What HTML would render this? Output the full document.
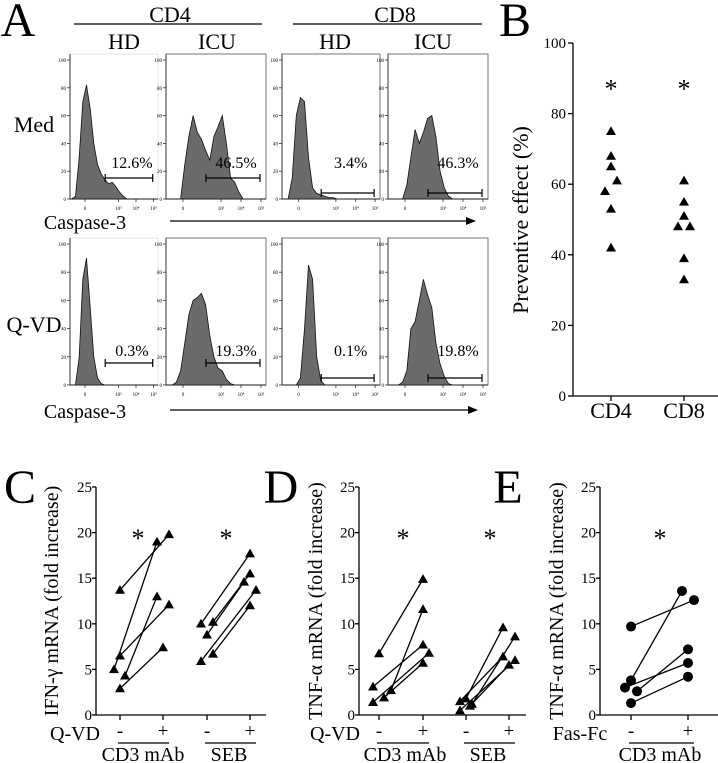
<!DOCTYPE html>
<html><head><meta charset="utf-8">
<style>
body{margin:0;background:#fff;}
svg{display:block;}
svg text{font-family:"Liberation Serif","Times New Roman",serif;}
</style></head>
<body>
<svg id="fig" width="718" height="763" viewBox="0 0 718 763"></svg>
<script>
// ---- Panel A histogram data (counts, 24 bins across each plot) ----
const histMedCD4HD  = [0,2,30,70,82,65,40,25,18,14,11,12,9,5,2,0,0,0,0,0,0,0,0,0];
const histMedCD4ICU = [0,0,0,0,25,45,60,48,43,35,28,45,52,60,40,15,12,5,0,0,0,0,0,0];
const histMedCD8HD  = [0,0,15,60,73,70,30,8,4,3,2,1,1,0,0,0,0,0,0,0,0,0,0,0];
const histMedCD8ICU = [0,0,0,0,10,30,50,40,48,58,60,45,20,8,2,0,0,0,0,0,0,0,0,0];
const histQCD4HD    = [0,0,20,75,90,55,20,5,1,0,0,0,0,0,0,0,0,0,0,0,0,0,0,0];
const histQCD4ICU   = [0,0,2,10,30,50,60,62,65,57,35,20,12,10,4,1,0,0,0,0,0,0,0,0];
const histQCD8HD    = [0,0,0,0,5,40,85,75,20,3,0,0,0,0,0,0,0,0,0,0,0,0,0,0];
const histQCD8ICU   = [0,0,0,2,10,40,45,60,75,64,55,30,15,6,1,0,0,0,0,0,0,0,0,0];
const gateLabels = ["12.6%","46.5%","3.4%","46.3%","0.3%","19.3%","0.1%","19.8%"];
// ---- Panel B ----
const bCategories = ["CD4","CD8"];
const bCD4 = [75,68,65,61,58,53,42];
const bCD8 = [61,55,51,48,48,39,33];
const bTicks = [0,20,40,60,80,100];
// ---- Panel C (IFN-γ) pairs: minus, plus ----
const cCD3Minus = [13.7,5,6.5,4.3,2.9];
const cCD3Plus  = [19.8,19,12.1,13,7.4];
const cSEBMinus = [10,8.8,10.2,5.9,6.7];
const cSEBPlus  = [17.7,14.6,15.5,13.7,12];
// ---- Panel D (TNF-α) ----
const dCD3Minus = [6.75,3.1,1.4,1.9,2.7];
const dCD3Plus  = [14.9,7.7,6.8,5.7,11.6];
const dSEBMinus = [1.8,1.2,1.5,0.5,1.0];
const dSEBPlus  = [9.6,8.6,6.4,6.0,5.5];
// ---- Panel E (TNF-α, Fas-Fc) ----
const eMinus = [9.7,3.8,3.0,2.6,1.3];
const ePlus  = [12.6,13.6,5.7,7.2,4.2];
const fcTicks = [0,5,10,15,20,25];

const NS="http://www.w3.org/2000/svg";
const svg=document.getElementById('fig');
function mk(tag,attrs,parent){const e=document.createElementNS(NS,tag);for(const k in attrs)e.setAttribute(k,attrs[k]);(parent||svg).appendChild(e);return e;}
function txt(s,x,y,size,anchor,name,extra){const t=mk('text',Object.assign({x:x,y:y,'font-size':size,'text-anchor':anchor||'middle',fill:'#000','font-family':'Liberation Serif, serif'},extra||{}));t.textContent=s;


return t;}
function ln(x1,y1,x2,y2,name,w,col){const l=mk('line',{x1:x1,y1:y1,x2:x2,y2:y2,stroke:col||'#000','stroke-width':w||1.3});


return l;}

// ===== Panel A =====
txt('A',18,36,48,'middle','panel-a-label');
txt('CD4',170,22,22,'middle','cd4-header');
ln(74,24,262,24,'cd4-header-line');
txt('CD8',395,22,22,'middle','cd8-header');
ln(293,24,482,24,'cd8-header-line');
txt('HD',124,49,22,'middle','hd-header-cd4');
txt('ICU',217,49,22,'middle','icu-header-cd4');
txt('HD',335,49,22,'middle','hd-header-cd8');
txt('ICU',433,49,22,'middle','icu-header-cd8');
txt('Med',34,132,22,'middle','med-row-label');
txt('Q-VD',34,332,22,'middle','qvd-row-label');

const boxes=[[70,158],[166,266],[282,380],[388,488]];
const rows=[[54,199],[238,385]];
const hists=[histMedCD4HD,histMedCD4ICU,histMedCD8HD,histMedCD8ICU,histQCD4HD,histQCD4ICU,histQCD8HD,histQCD8ICU];
const gateY=[[178,178,193,193],[363,363,378,378]];
const labY=[[168,168,168,168],[356,356,356,356]];
for(let r=0;r<2;r++){
  for(let b=0;b<4;b++){
    const [x0,x1]=boxes[b];const [y0,y1]=rows[r];
    const rc=mk('rect',{x:x0,y:y0,width:x1-x0,height:y1-y0,fill:'none',stroke:b===0?'#ddd':'#555','stroke-width':0.8});
    
    
    ln(x0,y0,x0,y1,'histogram-y-axis',1,'#333');
    ln(x0,y1,x1,y1,'histogram-x-axis',1,'#333');
    for(let t=0;t<=5;t++){const ty=y1-(y1-y0-6)*t/5;ln(x0-3,ty,x0,ty,'histogram-y-tick',0.8,'#333');
      txt(String(t*20),x0-4,ty+2,5,'end','histogram-y-tick-label');}
    const tl=['0','10³','10⁴','10⁵'];const tf=[0.17,0.55,0.75,0.95];
    for(let t=0;t<4;t++){const tx=x0+(x1-x0)*tf[t];ln(tx,y1,tx,y1+3,'histogram-x-tick',0.8,'#333');
      txt(tl[t],tx,y1+11,5,'middle','histogram-x-tick-label');}
    const h=hists[r*4+b];const n=h.length;const sx=(x1-x0)/n;const sy=(y1-y0-6)/100;
    let d='M'+x0+','+y1;
    for(let i=0;i<n;i++){d+=' L'+(x0+sx*(i+0.5)).toFixed(1)+','+(y1-h[i]*sy).toFixed(1);}
    d+=' L'+x1+','+y1+' Z';
    const p=mk('path',{d:d,fill:'#6b6b6b',stroke:'#111','stroke-width':0.8});
    
    
    const gx0=x0+(x1-x0)*0.4,gx1=x0+(x1-x0)*0.94,gy=gateY[r][b];
    ln(gx0,gy,gx1,gy,'gate-bar',1.2);ln(gx0,gy-4,gx0,gy+4,'gate-bar-end',1.2);ln(gx1,gy-4,gx1,gy+4,'gate-bar-end',1.2);
    txt(gateLabels[r*4+b],(gx0+gx1)/2+3,labY[r][b],16,'middle','gate-percentage');
  }
}
txt('Caspase-3',85,229,20,'middle','caspase-3-axis-label');
ln(170,221,468,221,'caspase-3-arrow',1.2);
mk('polygon',{points:'476,221 466,217 466,225',fill:'#000'});
txt('Caspase-3',85,418,20,'middle','caspase-3-axis-label-2');
ln(170,410,470,410,'caspase-3-arrow-2',1.2);
mk('polygon',{points:'478,410 468,406 468,414',fill:'#000'});

// ===== Panel B =====
txt('B',515,36,48,'middle','panel-b-label');
const bX0=573,bY0=396,bY1=43;
function by(v){return bY0-(bY0-bY1)*v/100;}
ln(bX0,bY1,bX0,bY0,'b-y-axis',1.3);ln(bX0,bY0,718,bY0,'b-x-axis',1.3);
bTicks.forEach(v=>{ln(bX0-5,by(v),bX0,by(v),'b-y-tick');txt(String(v),bX0-7,by(v)+5,15,'end','b-y-tick-label');});
const bCatX=[611,684];
bCategories.forEach((c,i)=>{ln(bCatX[i],bY0,bCatX[i],bY0+5,'b-x-tick');txt(c,bCatX[i],418,22,'middle','b-x-tick-label');
  txt('*',bCatX[i],by(88)+12,26,'middle','b-significance-star');});
txt('Preventive effect (%)',0,0,22,'middle','b-y-axis-title',{transform:'translate(528,220) rotate(-90)'});
function tri(x,y,s,name){const p=mk('polygon',{points:`${x},${y-s} ${x-s},${y+s*0.75} ${x+s},${y+s*0.75}`,fill:'#000'});

}
const bOff=[0,0,0,6,-6,0,0];const bOff8=[0,0,0,-6,6,0,0];
bCD4.forEach((v,i)=>tri(bCatX[0]+bOff[i],by(v),5,'b-cd4-point'));
bCD8.forEach((v,i)=>tri(bCatX[1]+bOff8[i],by(v),5,'b-cd8-point'));

// ===== Panels C, D, E =====
const fY0=715,fY1=487;
function fy(v){return fY0-(fY0-fY1)*v/25;}
function axes(ax,xEnd,prefix,title,tx){
  ln(ax,fY1,ax,fY0,prefix+'-y-axis',1.3);ln(ax,fY0,xEnd,fY0,prefix+'-x-axis',1.3);
  fcTicks.forEach(v=>{ln(ax-4,fy(v),ax,fy(v),prefix+'-y-tick');txt(String(v),ax-4,fy(v)+5,15,'end',prefix+'-y-tick-label');});
  txt(title,0,0,20,'middle',prefix+'-y-axis-title',{transform:`translate(${tx},601) rotate(-90)`});
}
function pairs(minus,plus,xm,xp,offM,offP,prefix,circle){
  minus.forEach((v,i)=>{
    const x1=xm+offM[i],x2=xp+offP[i];
    ln(x1,fy(v),x2,fy(plus[i]),prefix+'-pair-line',1.3);
    if(circle){[[x1,v],[x2,plus[i]]].forEach(q=>{const c=mk('circle',{cx:q[0],cy:fy(q[1]),r:5,fill:'#000'});
      
      });}
    else{tri(x1,fy(v),5,prefix+'-point');tri(x2,fy(plus[i]),5,prefix+'-point');}
  });
}
function xlabels(prefix,xm,xp,groupName,gx){
  ln(xm,fY0,xm,fY0+5,prefix+'-x-tick');ln(xp,fY0,xp,fY0+5,prefix+'-x-tick');
  txt('-',xm,737,19,'middle',prefix+'-minus-label');txt('+',xp,737,19,'middle',prefix+'-plus-label');
  ln(xm-2,743,xp+6,743,prefix+'-group-line',1.2);
  txt(groupName,gx,761,20,'middle',prefix+'-group-label');
}
// C
txt('C',20,503,48,'middle','panel-c-label');
axes(96,266,'c','IFN-γ mRNA (fold increase)',58);
pairs(cCD3Minus,cCD3Plus,120,163,[0,-6,0,5,0],[6,-6,6,-6,0],'c-cd3');
pairs(cSEBMinus,cSEBPlus,207,250,[-6,0,6,-6,6],[0,-6,0,6,0],'c-seb');
txt('Q-VD',75,740,20,'middle','c-qvd-label');
xlabels('c-cd3',120,163,'CD3 mAb',143);xlabels('c-seb',207,250,'SEB',229);
txt('*',138,547,26,'middle','c-star');txt('*',226,547,26,'middle','c-star');
// D
txt('D',281,503,48,'middle','panel-d-label');
axes(359,526,'d','TNF-α mRNA (fold increase)',322);
pairs(dCD3Minus,dCD3Plus,379,423,[0,-6,-6,5,12],[0,0,6,0,0],'d-cd3');
pairs(dSEBMinus,dSEBPlus,466,509,[0,6,-6,-6,4],[-6,6,-6,6,0],'d-seb');
txt('Q-VD',335,740,20,'middle','d-qvd-label');
xlabels('d-cd3',379,423,'CD3 mAb',405);xlabels('d-seb',466,509,'SEB',488);
txt('*',403,547,26,'middle','d-star');txt('*',490,547,26,'middle','d-star');
// E
txt('E',508,503,48,'middle','panel-e-label');
axes(600,718,'e','TNF-α mRNA (fold increase)',563);
pairs(eMinus,ePlus,631,688,[0,0,-6,6,0],[6,-6,0,0,0],'e-cd3',true);
txt('Fas-Fc',580,740,20,'middle','e-fasfc-label');
xlabels('e-cd3',631,688,'CD3 mAb',660);
txt('*',660,547,26,'middle','e-star');
</script>
</body></html>
